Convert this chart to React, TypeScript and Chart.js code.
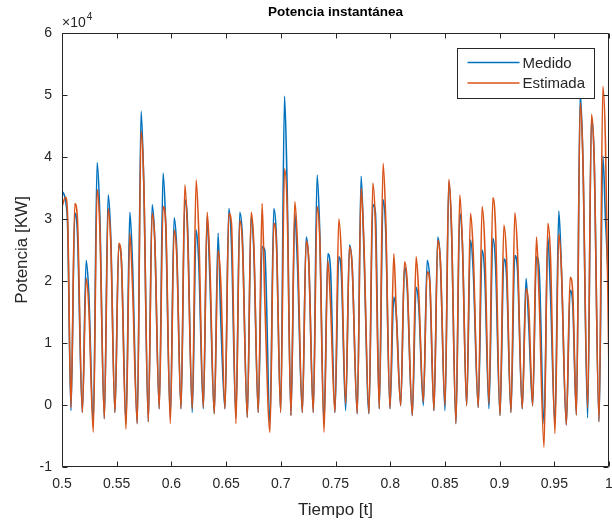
import React, { useEffect, useRef } from "react";
import { Chart, registerables } from "chart.js";

Chart.register(...registerables);

// ---------- texts ----------
const chartTitle = "Potencia instantánea";
const xAxisLabel = "Tiempo [t]";
const yAxisLabel = "Potencia [KW]";
const yExponent = "4";
const seriesNames = ["Medido", "Estimada"];
const seriesColors = ["#0072BD", "#D95319"];

// ---------- tick labels ----------
const xTicks = [0.5, 0.55, 0.6, 0.65, 0.7, 0.75, 0.8, 0.85, 0.9, 0.95, 1];
const yTicks = [-1, 0, 1, 2, 3, 4, 5, 6];

// ---------- data (values in units of 10^4 kW) ----------
// beginning of the record, before the first trough
const startTimes = [0.5, 0.5032, 0.5052];
const medidoStart = [3.45, 3.3, 2.85];
const estimadaStart = [3.2, 3.35, 3.0];

// time of the trough that starts each oscillation cycle
const troughTimes = [
  0.5082, 0.5186, 0.5286, 0.5387, 0.5484, 0.5585, 0.5688, 0.5789, 0.5889, 0.599,
  0.6088, 0.6191, 0.6292, 0.6392, 0.649, 0.659, 0.6694, 0.6794, 0.6901, 0.6999,
  0.7093, 0.7197, 0.7297, 0.7395, 0.7495, 0.7593, 0.7699, 0.7806, 0.79, 0.7998,
  0.8096, 0.8202, 0.8303, 0.84, 0.8501, 0.8601, 0.8699, 0.8805, 0.8903, 0.9004,
  0.9104, 0.9207, 0.9302, 0.9406, 0.9506, 0.961, 0.9702, 0.9805, 0.9909,
];
// offsets of the main peak and of the shoulder inside a cycle
const peakOffset = 0.0035;
const shoulderOffset = 0.0059;

const medidoTrough = [
  -0.09, -0.12, -0.3, -0.22, -0.12, -0.3, -0.3, -0.27, -0.06, -0.2,
  -0.06, -0.12, -0.06, -0.14, -0.06, -0.2, -0.2, -0.12, -0.3, -0.12,
  -0.17, -0.12, -0.12, -0.3, -0.12, -0.09, -0.14, -0.14, -0.06, -0.06,
  -0.01, -0.17, -0.01, -0.09, -0.09, -0.3, -0.01, -0.04, -0.06, -0.17,
  -0.12, -0.06, -0.01, -0.3, -0.3, -0.32, -0.16, -0.21, -0.27,
];
const medidoPeak = [
  3.09, 2.33, 3.91, 3.39, 2.58, 3.11, 4.74, 3.23, 3.74, 3.02,
  3.31, 2.82, 3.04, 2.77, 3.17, 3.11, 3.04, 2.55, 3.17, 4.98,
  3.09, 2.71, 3.71, 2.44, 2.39, 2.58, 3.69, 3.23, 3.31, 1.74,
  2.23, 1.9, 2.33, 2.71, 3.6, 3.09, 2.66, 2.5, 2.69, 2.36,
  2.41, 2.04, 2.39, 2.71, 3.13, 1.85, 5.03, 4.63, 4.02,
];
const medidoShoulder = [
  2.77, 1.8, 3.1, 2.7, 2.33, 2.3, 3.6, 2.66, 2.9, 2.5,
  2.93, 2.3, 2.07, 1.4, 2.6, 2.7, 2.5, 2.5, 2.7, 3.5,
  2.28, 2.3, 2.8, 2.2, 2.1, 2.25, 2.6, 3.1, 2.8, 1.42,
  1.9, 1.6, 2.0, 2.3, 2.85, 2.6, 2.2, 2.1, 2.3, 2.1,
  2.2, 1.31, 2.2, 1.8, 2.2, 1.6, 4.0, 4.0, 3.0,
];

const estimadaTrough = [
  -0.04, -0.12, -0.44, -0.22, -0.12, -0.39, -0.3, -0.27, -0.06, -0.3,
  -0.06, -0.06, -0.04, -0.14, -0.06, -0.3, -0.2, -0.12, -0.44, -0.12,
  -0.17, -0.12, -0.12, -0.44, -0.12, 0.02, -0.14, -0.14, -0.06, -0.06,
  -0.01, -0.17, 0.05, -0.09, -0.01, -0.3, -0.01, -0.04, 0.02, -0.17,
  -0.12, -0.06, -0.01, -0.68, -0.46, -0.32, -0.16, -0.05, -0.27,
];
const estimadaPeak = [
  3.25, 2.04, 3.47, 3.17, 2.61, 2.77, 4.42, 3.09, 3.2, 2.82,
  3.55, 3.63, 3.11, 2.5, 3.09, 2.98, 3.11, 3.25, 2.93, 3.81,
  3.28, 2.64, 3.2, 2.33, 3.0, 2.55, 3.5, 3.58, 3.9, 2.44,
  2.31, 2.39, 2.15, 2.66, 3.64, 3.39, 3.09, 3.2, 3.34, 2.9,
  3.1, 1.88, 2.71, 2.93, 2.76, 2.06, 4.87, 4.69, 5.14,
];
const estimadaShoulder = [
  3.0, 1.58, 2.9, 2.6, 2.33, 1.95, 3.63, 2.66, 2.95, 2.4,
  2.8, 2.8, 2.3, 2.0, 2.93, 2.6, 2.6, 1.74, 2.6, 3.2,
  2.6, 2.3, 2.7, 1.64, 2.4, 2.25, 2.7, 2.9, 3.0, 1.42,
  2.0, 1.8, 2.0, 2.3, 2.9, 2.6, 2.5, 2.6, 2.9, 2.4,
  2.5, 1.6, 1.74, 2.4, 2.2, 1.8, 4.0, 4.0, 4.2,
];

// end of the record
const endTime = 1.0;
const medidoEnd = 1.8;
const estimadaEnd = 0.5;

type Pt = { x: number; y: number };

function buildSeries(
  start: number[],
  trough: number[],
  peak: number[],
  shoulder: number[],
  end: number
): Pt[] {
  const pts: Pt[] = startTimes.map((t, i) => ({ x: t, y: start[i] }));
  troughTimes.forEach((t, k) => {
    pts.push({ x: t, y: trough[k] });
    pts.push({ x: t + peakOffset, y: peak[k] });
    pts.push({ x: t + shoulderOffset, y: shoulder[k] });
  });
  pts.push({ x: endTime, y: end });
  return pts;
}

const FONT = "'Liberation Sans', Arial, Helvetica, sans-serif";
const AXIS_COLOR = "#262626";

const matlabPlugin = {
  id: "matlabFrame",
  afterDraw(chart: any) {
    const { ctx, chartArea: a, scales } = chart;
    const xs = scales.x;
    const ys = scales.y;
    ctx.save();
    // axes box
    ctx.strokeStyle = AXIS_COLOR;
    ctx.lineWidth = 1;
    const L = Math.round(a.left) + 0.5;
    const T = Math.round(a.top) + 0.5;
    const R = Math.round(a.right) - 0.5;
    const B = Math.round(a.bottom) - 0.5;
    ctx.beginPath();
    ctx.rect(L, T, R - L, B - T);
    // inward ticks
    const tl = 5;
    xTicks.forEach((v) => {
      const px = Math.round(xs.getPixelForValue(v)) + 0.5;
      ctx.moveTo(px, B);
      ctx.lineTo(px, B - tl);
      ctx.moveTo(px, T);
      ctx.lineTo(px, T + tl);
    });
    yTicks.forEach((v) => {
      const py = Math.round(ys.getPixelForValue(v)) + 0.5;
      ctx.moveTo(L, py);
      ctx.lineTo(L + tl, py);
      ctx.moveTo(R, py);
      ctx.lineTo(R - tl, py);
    });
    ctx.stroke();

    // exponent label  x10^4
    ctx.fillStyle = AXIS_COLOR;
    ctx.textAlign = "left";
    ctx.textBaseline = "alphabetic";
    ctx.font = `14px ${FONT}`;
    const base = "\u00d710";
    ctx.fillText(base, a.left, a.top - 6);
    const w = ctx.measureText(base).width;
    ctx.font = `10px ${FONT}`;
    ctx.fillText(yExponent, a.left + w + 1, a.top - 13);

    // title
    ctx.fillStyle = "#000000";
    ctx.font = `bold 13.5px ${FONT}`;
    ctx.textAlign = "center";
    ctx.textBaseline = "middle";
    ctx.fillText(chartTitle, (a.left + a.right) / 2, 12);

    // legend (inside, north-east)
    const lw = 137;
    const lh = 50;
    const lx = Math.round(a.right - 15 - lw) + 0.5;
    const ly = Math.round(a.top + 15) + 0.5;
    ctx.fillStyle = "#ffffff";
    ctx.fillRect(lx, ly, lw, lh);
    ctx.strokeStyle = AXIS_COLOR;
    ctx.lineWidth = 1;
    ctx.strokeRect(lx, ly, lw, lh);
    ctx.font = `15px ${FONT}`;
    ctx.textAlign = "left";
    ctx.textBaseline = "middle";
    chart.data.datasets.forEach((ds: any, i: number) => {
      const cy = ly + 14 + i * 20.5;
      ctx.strokeStyle = ds.borderColor;
      ctx.lineWidth = 1.5;
      ctx.beginPath();
      ctx.moveTo(lx + 10, cy);
      ctx.lineTo(lx + 62, cy);
      ctx.stroke();
      ctx.fillStyle = AXIS_COLOR;
      ctx.fillText(ds.label, lx + 65, cy + 1);
    });
    ctx.restore();
  },
};

export default function App() {
  const ref = useRef<HTMLCanvasElement>(null);

  useEffect(() => {
    const canvas = ref.current;
    if (!canvas) return;
    const medido = buildSeries(medidoStart, medidoTrough, medidoPeak, medidoShoulder, medidoEnd);
    const estimada = buildSeries(
      estimadaStart,
      estimadaTrough,
      estimadaPeak,
      estimadaShoulder,
      estimadaEnd
    );
    const chart = new Chart(canvas, {
      type: "line",
      data: {
        datasets: [
          {
            label: seriesNames[0],
            data: medido,
            borderColor: seriesColors[0],
            backgroundColor: seriesColors[0],
            borderWidth: 1.6,
            pointRadius: 0,
            cubicInterpolationMode: "monotone",
            order: 1,
          },
          {
            label: seriesNames[1],
            data: estimada,
            borderColor: seriesColors[1],
            backgroundColor: seriesColors[1],
            borderWidth: 1.6,
            pointRadius: 0,
            cubicInterpolationMode: "monotone",
            order: 0,
          },
        ],
      },
      options: {
        responsive: false,
        animation: false,
        devicePixelRatio: 1,
        layout: { padding: { top: 33, right: 3, left: 0, bottom: 0 } },
        plugins: {
          legend: { display: false },
          tooltip: { enabled: false },
          title: { display: false },
        },
        scales: {
          x: {
            type: "linear",
            min: 0.5,
            max: 1,
            grid: { display: false, drawTicks: false },
            border: { display: false },
            afterBuildTicks: (s: any) => {
              s.ticks = xTicks.map((v) => ({ value: v }));
            },
            afterFit: (s: any) => {
              s.height = 57;
              s.paddingLeft = 0;
              s.paddingRight = 0;
            },
            ticks: {
              autoSkip: false,
              maxRotation: 0,
              padding: 9,
              color: AXIS_COLOR,
              font: { family: FONT, size: 14 },
              callback: (v: any) => String(parseFloat(Number(v).toFixed(2))),
            },
            title: {
              display: true,
              text: xAxisLabel,
              color: AXIS_COLOR,
              font: { family: FONT, size: 17 },
              padding: { top: 0, bottom: 3 },
            },
          },
          y: {
            type: "linear",
            min: -1,
            max: 6,
            grid: { display: false, drawTicks: false },
            border: { display: false },
            afterBuildTicks: (s: any) => {
              s.ticks = yTicks.map((v) => ({ value: v }));
            },
            afterFit: (s: any) => {
              s.width = 62;
              s.paddingTop = 0;
              s.paddingBottom = 0;
            },
            ticks: {
              autoSkip: false,
              padding: 10,
              color: AXIS_COLOR,
              font: { family: FONT, size: 14 },
              callback: (v: any) => String(v),
            },
            title: {
              display: true,
              text: yAxisLabel,
              color: AXIS_COLOR,
              font: { family: FONT, size: 17 },
              padding: { top: 12, bottom: 0 },
            },
          },
        },
      },
      plugins: [matlabPlugin],
    } as any);
    return () => chart.destroy();
  }, []);

  return (
    <div
      style={{
        position: "absolute",
        left: 0,
        top: 0,
        width: 612,
        height: 524,
        background: "#ffffff",
      }}
    >
      <canvas ref={ref} width={612} height={524} style={{ display: "block", width: 612, height: 524 }} />
    </div>
  );
}
